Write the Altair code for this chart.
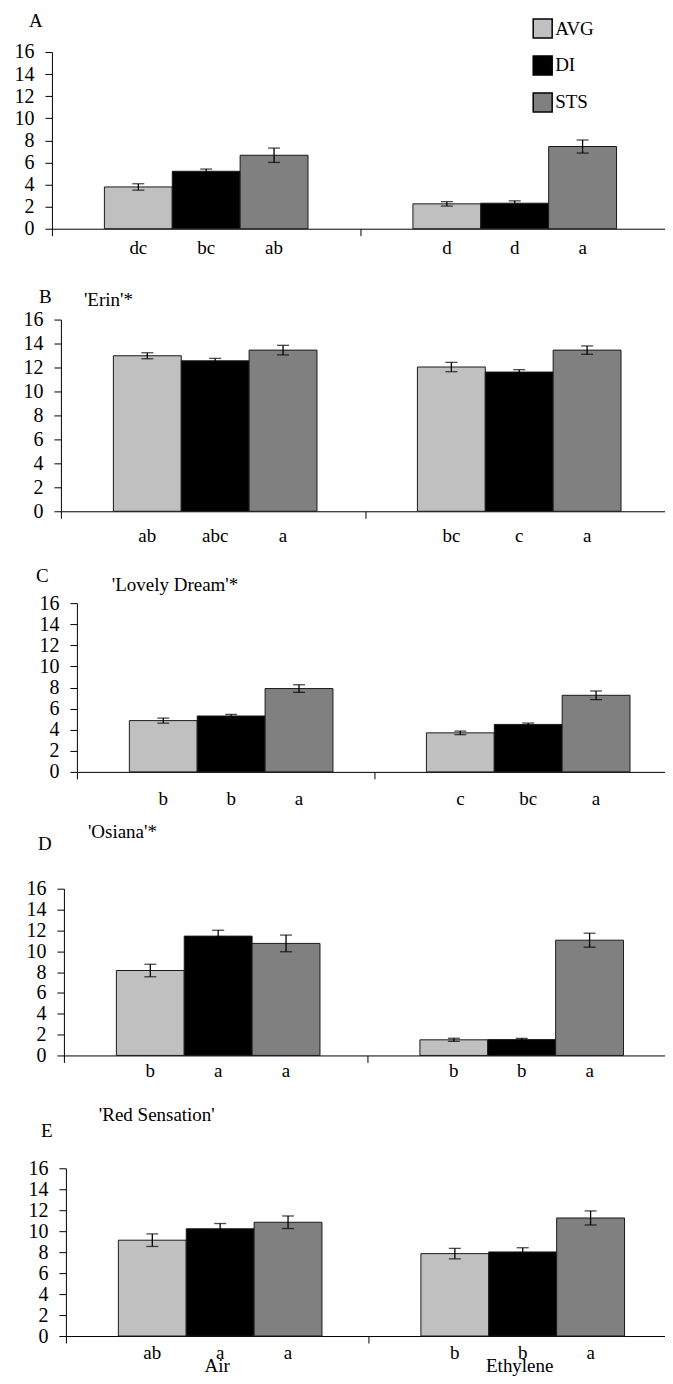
import altair as alt
import pandas as pd

# ---------------- data ----------------
panel_ids = ["A", "B", "C", "D", "E"]
panel_names = ["", "'Erin'*", "'Lovely Dream'*", "'Osiana'*", "'Red Sensation'"]
conditions = ["Air", "Ethylene"]
treatments = ["AVG", "DI", "STS"]
y_ticks = [0, 2, 4, 6, 8, 10, 12, 14, 16]

# order: Air AVG, Air DI, Air STS, Ethylene AVG, Ethylene DI, Ethylene STS
means_A = [3.78, 5.2, 6.65, 2.25, 2.31, 7.44]
errs_A = [0.29, 0.2, 0.65, 0.2, 0.21, 0.59]
letters_A = ["dc", "bc", "ab", "d", "d", "a"]

means_B = [12.98, 12.56, 13.45, 12.04, 11.62, 13.45]
errs_B = [0.25, 0.2, 0.4, 0.39, 0.2, 0.35]
letters_B = ["ab", "abc", "a", "bc", "c", "a"]

means_C = [4.86, 5.3, 7.9, 3.7, 4.5, 7.26]
errs_C = [0.24, 0.15, 0.36, 0.17, 0.13, 0.41]
letters_C = ["b", "b", "a", "c", "bc", "a"]

means_D = [8.15, 11.45, 10.75, 1.5, 1.52, 11.06]
errs_D = [0.6, 0.56, 0.8, 0.15, 0.12, 0.67]
letters_D = ["b", "a", "a", "b", "b", "a"]

means_E = [9.14, 10.23, 10.85, 7.86, 8.02, 11.26]
errs_E = [0.6, 0.5, 0.6, 0.5, 0.4, 0.67]
letters_E = ["ab", "a", "a", "b", "b", "a"]

all_means = [means_A, means_B, means_C, means_D, means_E]
all_errs = [errs_A, errs_B, errs_C, errs_D, errs_E]
all_letters = [letters_A, letters_B, letters_C, letters_D, letters_E]

# ---------------- layout (pixels) ----------------
FONT = "Liberation Serif, Times New Roman, Times, serif"
PLOT_W = 620
slot_h = [177, 283, 261, 284, 281]
plot_h = [177, 192, 169, 167, 168]
x_range = [(0, 618), (9, 618), (25, 620), (12, 620), (14, 620)]
letter_dy = [19, 25, 27, 16, 17]
id_pos = [(-23, -31), (-13, 68), (-16, 65), (-14, 72), (-11, 76)]
name_pos = [(0, 0), (32, 71), (60, 74), (36, 60), (47, 60)]

colors = ["#c0c0c0", "#000000", "#808080"]


def make_panel(i):
    rows = []
    k = 0
    for c in conditions:
        for t in treatments:
            m = all_means[i][k]
            e = all_errs[i][k]
            rows.append({"cond": c, "trt": t, "mean": m, "lo": m - e, "hi": m + e,
                         "letter": all_letters[i][k]})
            k += 1
    df = pd.DataFrame(rows)
    H = slot_h[i]
    h = plot_h[i]
    x0, x1 = x_range[i]

    xenc = alt.X("cond:N",
                 scale=alt.Scale(domain=conditions, range=[x0, x1], paddingInner=0, paddingOuter=0),
                 axis=alt.Axis(title=None, labels=False, tickBand="extent", tickSize=7,
                               domainColor="black", tickColor="black", grid=False))
    xoff = alt.XOffset("trt:N", scale=alt.Scale(domain=treatments, paddingInner=0, paddingOuter=0.773))
    yscale = alt.Scale(domain=[0, 16], range=[H, H - h], nice=False, zero=True)
    yaxis = alt.Axis(title=None, values=y_ticks, offset=-x0, tickSize=7, labelPadding=11,
                     labelFont=FONT, labelFontSize=20, labelColor="black", labelOverlap=False,
                     domainColor="black", tickColor="black", grid=False, tickCount=9)

    base = alt.Chart(df)
    bars = base.mark_bar(stroke="#1a1a1a", strokeWidth=1).encode(
        x=xenc, xOffset=xoff,
        y=alt.Y("mean:Q", scale=yscale, axis=yaxis),
        color=alt.Color("trt:N", scale=alt.Scale(domain=treatments, range=colors),
                        legend=alt.Legend(title=None)),
    )
    err = base.mark_rule(color="black", strokeWidth=1.3).encode(
        x=xenc, xOffset=xoff, y=alt.Y("lo:Q", scale=yscale, axis=yaxis), y2="hi:Q")
    cap_lo = base.mark_tick(color="black", thickness=1.3, size=12).encode(
        x=xenc, xOffset=xoff, y=alt.Y("lo:Q", scale=yscale, axis=yaxis))
    cap_hi = base.mark_tick(color="black", thickness=1.3, size=12).encode(
        x=xenc, xOffset=xoff, y=alt.Y("hi:Q", scale=yscale, axis=yaxis))
    letters = base.mark_text(font=FONT, fontSize=19, baseline="middle", dy=letter_dy[i],
                             color="black").encode(
        x=xenc, xOffset=xoff, y=alt.datum(0, scale=yscale, axis=yaxis), text="letter:N")

    layers = [bars, err, cap_lo, cap_hi, letters]

    pid = alt.Chart(pd.DataFrame({"t": [panel_ids[i]]})).mark_text(
        font=FONT, fontSize=19, align="left", baseline="middle", color="black").encode(
        x=alt.value(id_pos[i][0]), y=alt.value(id_pos[i][1]), text="t:N")
    layers.append(pid)
    if panel_names[i]:
        pname = alt.Chart(pd.DataFrame({"t": [panel_names[i]]})).mark_text(
            font=FONT, fontSize=19, align="left", baseline="middle", color="black").encode(
            x=alt.value(name_pos[i][0]), y=alt.value(name_pos[i][1]), text="t:N")
        layers.append(pname)
    if i == len(panel_ids) - 1:
        cdf = pd.DataFrame({"cond": conditions})
        clab = alt.Chart(cdf).mark_text(font=FONT, fontSize=19, baseline="alphabetic", dy=36,
                                        color="black").encode(
            x=xenc, y=alt.datum(0, scale=yscale, axis=yaxis), text="cond:N")
        layers.append(clab)

    return alt.layer(*layers).properties(width=PLOT_W, height=H)


panels = [make_panel(i) for i in range(5)]

chart = alt.vconcat(*panels, spacing=0, bounds="flush").properties(
    padding={"left": 6, "top": 3, "right": -7, "bottom": -1}
).configure(font=FONT).configure_view(stroke=None).configure_axis(
    labelFont=FONT
).configure_text(font=FONT).configure_legend(
    orient="none", legendX=481, legendY=-34, symbolType="square", symbolSize=361,
    symbolStrokeColor="black", symbolStrokeWidth=1.5, labelFont=FONT, labelFontSize=19,
    labelColor="black", rowPadding=12, labelOffset=2
)

chart.save("out.html", embed_options={"renderer": "svg", "actions": False})
